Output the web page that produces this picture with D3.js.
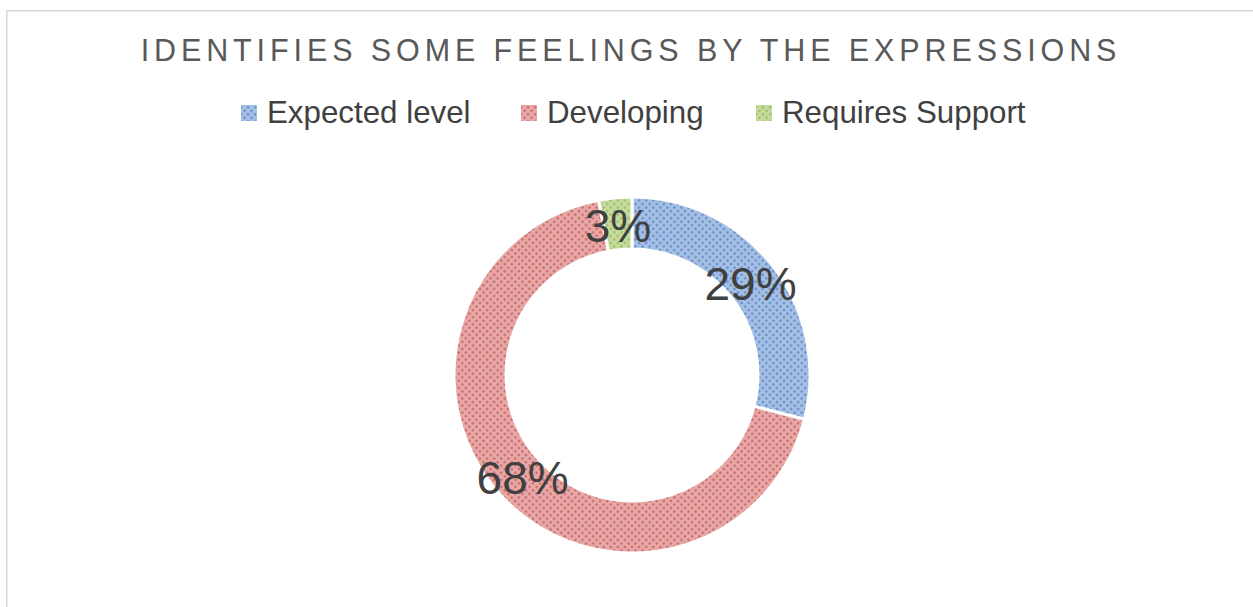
<!DOCTYPE html>
<html>
<head>
<meta charset="utf-8">
<script src="https://cdn.jsdelivr.net/npm/d3@7"></script>
<style>
  html, body { margin: 0; padding: 0; background: #ffffff; }
  svg { display: block; }
</style>
</head>
<body>
<script>
// Survey result: share of children at each level
const categories = ["Expected level", "Developing", "Requires Support"];
const shares = [29, 68, 3];
const baseColors = ["#a7c1e6", "#e8a9a8", "#c6dc9e"];
const dotColors = ["#4a78b8", "#b9504e", "#8fae50"];
const title = "IDENTIFIES SOME FEELINGS BY THE EXPRESSIONS";

const W = 1253, H = 607;
const svg = d3.select("body").append("svg").attr("width", W).attr("height", H);

// Patterned fills (light base with darker diagonal dot grid)
const defs = svg.append("defs");
categories.forEach((c, i) => {
  const p = defs.append("pattern")
    .attr("id", "pat" + i)
    .attr("patternUnits", "userSpaceOnUse")
    .attr("width", 5).attr("height", 5)
    .attr("patternTransform", "rotate(45)");
  p.append("rect").attr("width", 5).attr("height", 5).attr("fill", baseColors[i]);
  p.append("rect").attr("x", 0.5).attr("y", 0.5).attr("width", 2.2).attr("height", 2.2)
    .attr("fill", dotColors[i]).attr("opacity", 0.8);
});

// Chart frame
svg.append("rect")
  .attr("x", 6.75).attr("y", 10.75)
  .attr("width", W).attr("height", H)
  .attr("fill", "#ffffff").attr("stroke", "#d9d9d9").attr("stroke-width", 1.5);

// Title
svg.append("text")
  .attr("x", 631).attr("y", 61)
  .attr("text-anchor", "middle")
  .attr("font-family", "Liberation Sans, Arial, sans-serif")
  .attr("font-size", 30.5)
  .attr("letter-spacing", "4.9px")
  .attr("fill", "#595959")
  .text(title);

// Legend
const legendX = [241, 521, 756];
const legend = svg.append("g");
categories.forEach((c, i) => {
  const g = legend.append("g").attr("transform", `translate(${legendX[i]},105)`);
  g.append("rect").attr("width", 16).attr("height", 16).attr("fill", `url(#pat${i})`);
  g.append("text")
    .attr("x", 26).attr("y", 18)
    .attr("font-family", "Liberation Sans, Arial, sans-serif")
    .attr("font-size", 31.3)
    .attr("fill", "#404040")
    .text(c);
});

// Donut
const cx = 632, cy = 375, rOuter = 178, rInner = 126;
const pie = d3.pie().sort(null).value(d => d);
const arcs = pie(shares);
const arc = d3.arc().innerRadius(rInner).outerRadius(rOuter);
const labelArc = d3.arc().innerRadius(150).outerRadius(150);

const g = svg.append("g").attr("transform", `translate(${cx},${cy})`);
g.selectAll("path.slice")
  .data(arcs)
  .join("path")
  .attr("class", "slice")
  .attr("d", arc)
  .attr("fill", (d, i) => `url(#pat${i})`)
  .attr("stroke", "#ffffff")
  .attr("stroke-width", 3);

g.selectAll("text.lbl")
  .data(arcs)
  .join("text")
  .attr("class", "lbl")
  .attr("transform", d => `translate(${labelArc.centroid(d)})`)
  .attr("text-anchor", "middle")
  .attr("dy", "0.36em")
  .attr("font-family", "Liberation Sans, Arial, sans-serif")
  .attr("font-size", 46)
  .attr("fill", "#404040")
  .text(d => d.data + "%");
</script>
</body>
</html>
